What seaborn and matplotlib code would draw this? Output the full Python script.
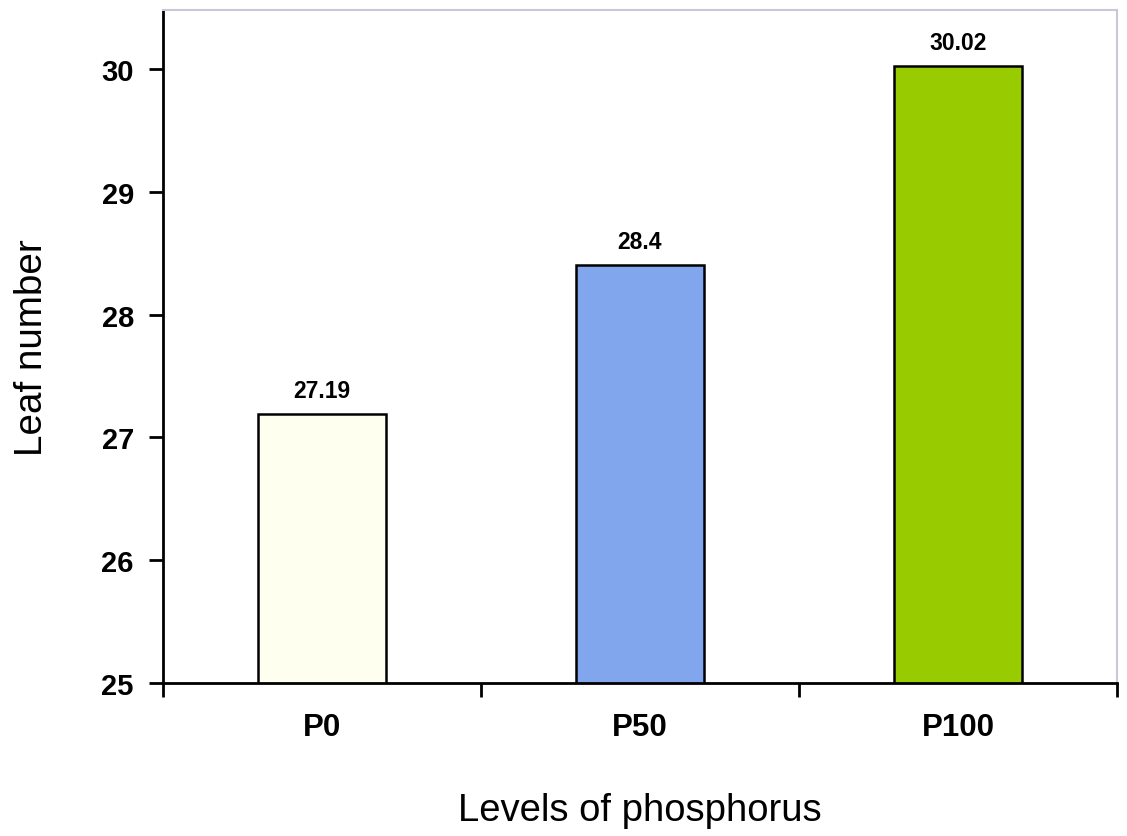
import numpy as np
import matplotlib
matplotlib.use("Agg")
import matplotlib.pyplot as plt
import seaborn as sns
import pandas as pd

levels = ['P0', 'P50', 'P100']
leaf_number = [27.19, 28.4, 30.02]
bar_colors = ['#FFFFF0', '#82A6EE', '#99CC00']

df = pd.DataFrame({'Level': levels, 'Leaf number': leaf_number})

sns.set_style('white')
plt.rcParams['font.family'] = ['Liberation Sans', 'DejaVu Sans']
plt.rcParams['text.color'] = 'black'
plt.rcParams['axes.labelcolor'] = 'black'
plt.rcParams['xtick.color'] = 'black'
plt.rcParams['ytick.color'] = 'black'

fig = plt.figure(figsize=(11.27, 8.37), dpi=100)
ax = fig.add_axes([0.1446, 0.1828, 0.8465, 0.8041])

sns.barplot(x='Level', y='Leaf number', data=df, hue='Level', palette=bar_colors,
            saturation=1, width=0.4, edgecolor='black', linewidth=1.8, legend=False, ax=ax)

ax.set_ylim(25, 30.48)
ax.set_xlim(-0.5, 2.5)
ax.set_yticks([25, 26, 27, 28, 29, 30])

# labels above bars
for i, v in enumerate(leaf_number):
    ax.text(i, v + 0.1, f"{v:g}", ha='center', va='bottom', fontsize=16.5, fontweight='bold')

# category tick marks sit between the bars
ax.set_xticks([0, 1, 2])
ax.set_xticklabels(levels, fontsize=22.5, fontweight='bold')
ax.tick_params(axis='x', length=0, pad=21)
ax.set_xticks([-0.5, 0.5, 1.5, 2.5], minor=True)
ax.tick_params(axis='x', which='minor', direction='out', length=10, width=2, color='black', bottom=True)
ax.tick_params(axis='y', direction='out', length=10, width=2, color='black', left=True, labelsize=21, pad=11)
for lbl in ax.get_yticklabels():
    lbl.set_fontweight('bold')

for side in ['left', 'bottom']:
    ax.spines[side].set_color('black')
    ax.spines[side].set_linewidth(2)
for side in ['top', 'right']:
    ax.spines[side].set_color('#C8C8D8')
    ax.spines[side].set_linewidth(1.5)

ax.set_xlabel('Levels of phosphorus', fontsize=27.5, labelpad=36)
ax.set_ylabel('Leaf number', fontsize=27.8, labelpad=37)

fig.savefig('out.png', dpi=100)
